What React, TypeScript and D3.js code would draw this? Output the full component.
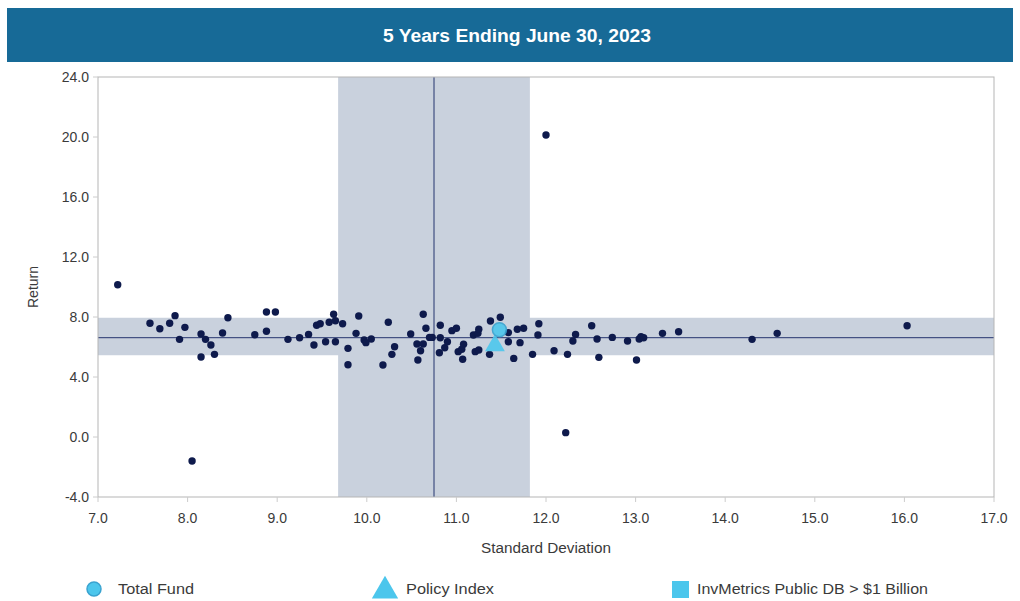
import React from "react";
import * as d3 from "d3";

const title = "5 Years Ending June 30, 2023";
const xTicks = [7, 8, 9, 10, 11, 12, 13, 14, 15, 16, 17];
const yTicks = [-4, 0, 4, 8, 12, 16, 20, 24];

// Universe peers: [standard deviation, return]
const peerSd = [
  7.22, 7.58, 7.69, 7.8, 7.86, 7.97, 7.91, 8.15, 8.2, 8.26, 8.15, 8.3, 8.39, 8.45, 8.05,
  8.75, 8.88, 8.98, 8.88, 9.12, 9.25, 9.35, 9.41, 9.44, 9.48, 9.54, 9.58, 9.63, 9.65, 9.65,
  9.73, 9.79, 9.79, 9.91, 9.88, 9.97, 9.99, 10.05, 10.18, 10.24, 10.28, 10.31, 10.49, 10.57,
  10.56, 10.6, 10.63, 10.63, 10.66, 10.7, 10.73, 10.82, 10.82, 10.81, 10.87, 10.9, 10.95, 11.0,
  11.02, 11.06, 11.07, 11.08, 11.19, 11.24, 11.25, 11.21, 11.25, 11.37, 11.38, 11.49, 11.58,
  11.58, 11.64, 11.68, 11.75, 11.71, 11.85, 11.92, 11.91, 12.0, 12.09, 12.22, 12.24, 12.3,
  12.33, 12.51, 12.57, 12.59, 12.74, 12.91, 13.01, 13.04, 13.06, 13.09, 13.3, 13.48, 14.3,
  14.58, 16.03,
];
const peerRet = [
  10.15, 7.58, 7.22, 7.58, 8.09, 7.31, 6.51, 6.87, 6.51, 6.13, 5.33, 5.51, 6.93, 7.95, -1.6,
  6.82, 8.33, 8.33, 7.05, 6.51, 6.62, 6.84, 6.13, 7.45, 7.55, 6.35, 7.65, 8.18, 7.75, 6.35,
  7.55, 5.91, 4.82, 8.07, 6.91, 6.47, 6.29, 6.53, 4.8, 7.65, 5.51, 6.02, 6.87, 5.13,
  6.2, 5.75, 6.2, 8.18, 7.25, 6.64, 6.64, 7.45, 6.62, 5.62, 5.95, 6.35, 7.09, 7.25,
  5.69, 5.85, 5.18, 6.18, 6.8, 6.91, 7.18, 5.69, 5.8, 5.51, 7.73, 7.98, 6.96,
  6.35, 5.24, 7.18, 7.25, 6.29, 5.51, 7.55, 6.8, 20.13, 5.75, 0.29, 5.51, 6.4,
  6.84, 7.42, 6.53, 5.31, 6.64, 6.4, 5.13, 6.53, 6.69, 6.62, 6.91, 7.02, 6.51,
  6.91, 7.42,
];

const totalFund = [11.48, 7.15];
const policyIndex = [11.43, 6.1];
const medianSd = 10.75;
const medianRet = 6.62;
const sdBand = [9.68, 11.82];
const retBand = [5.45, 7.95];

const legendItems = ["Total Fund", "Policy Index", "InvMetrics Public DB > $1 Billion"];

export default function App() {
  const W = 1020;
  const H = 601;
  const left = 98, right = 994, top = 77, bottom = 497;
  const x = d3.scaleLinear().domain([7, 17]).range([left, right]);
  const y = d3.scaleLinear().domain([-4, 24]).range([bottom, top]);
  const font = "'Liberation Sans', Arial, sans-serif";
  const tickColor = "#3a3a3a";
  const cyan = "#4cc6ec";
  const navy = "#0e1a4c";
  const tri = d3.symbol().type(d3.symbolTriangle).size(170)();

  return (
    <svg width={W} height={H} style={{ position: "absolute", left: 0, top: 0, background: "#fff" }}
      fontFamily={font}>
      <rect x={0} y={0} width={W} height={H} fill="#fff" />
      <rect x={7} y={8} width={1006} height={54} fill="#176a97" />
      <text x={517} y={42} textAnchor="middle" fill="#fff" fontSize={18} fontWeight="bold"
        textLength={268} lengthAdjust="spacingAndGlyphs">{title}</text>

      {/* bands */}
      <rect x={x(sdBand[0])} y={top} width={x(sdBand[1]) - x(sdBand[0])} height={bottom - top} fill="#c9d1dd" />
      <rect x={left} y={y(retBand[1])} width={right - left} height={y(retBand[0]) - y(retBand[1])} fill="#c9d1dd" />
      <line x1={x(medianSd)} x2={x(medianSd)} y1={top} y2={bottom} stroke="#25346e" strokeWidth={1} />
      <line x1={left} x2={right} y1={y(medianRet)} y2={y(medianRet)} stroke="#25346e" strokeWidth={1} />

      {/* frame */}
      <rect x={left} y={top} width={right - left} height={bottom - top} fill="none" stroke="#b5b5b5" strokeWidth={1} />

      {/* axes */}
      {yTicks.map((t) => (
        <g key={"y" + t}>
          <line x1={left - 5} x2={left} y1={y(t)} y2={y(t)} stroke="#ccc" />
          <text x={left - 9} y={y(t) + 5} textAnchor="end" fontSize={14} fill={tickColor}>{t.toFixed(1)}</text>
        </g>
      ))}
      {xTicks.map((t) => (
        <g key={"x" + t}>
          <line x1={x(t)} x2={x(t)} y1={bottom} y2={bottom + 5} stroke="#ccc" />
          <text x={x(t)} y={bottom + 26} textAnchor="middle" fontSize={14} fill={tickColor}>{t.toFixed(1)}</text>
        </g>
      ))}
      <text x={546} y={553} textAnchor="middle" fontSize={14} fill={tickColor}
        textLength={130} lengthAdjust="spacingAndGlyphs">Standard Deviation</text>
      <text transform={`translate(38,${287}) rotate(-90)`} textAnchor="middle" fontSize={14} fill={tickColor}>Return</text>

      {/* peers */}
      {peerSd.map((s, i) => (
        <circle key={i} cx={x(s)} cy={y(peerRet[i])} r={3.7} fill={navy} />
      ))}

      {/* total fund & policy */}
      <path d={tri} transform={`translate(${x(policyIndex[0])},${y(policyIndex[1])})`} fill={cyan} opacity={0.9} />
      <circle cx={x(totalFund[0])} cy={y(totalFund[1])} r={7} fill={cyan} stroke="#3aa3d0" strokeWidth={1.5} opacity={0.9} />

      {/* legend */}
      <circle cx={94} cy={589} r={7} fill={cyan} stroke="#3aa3d0" strokeWidth={1.5} />
      <text x={118} y={594} fontSize={14} fill={tickColor} textLength={76} lengthAdjust="spacingAndGlyphs">{legendItems[0]}</text>
      <path d={d3.symbol().type(d3.symbolTriangle).size(300)()} transform="translate(385,591)" fill={cyan} />
      <text x={406} y={594} fontSize={14} fill={tickColor} textLength={88} lengthAdjust="spacingAndGlyphs">{legendItems[1]}</text>
      <rect x={672} y={581} width={17} height={17} fill={cyan} />
      <text x={697} y={594} fontSize={14} fill={tickColor} textLength={231} lengthAdjust="spacingAndGlyphs">{legendItems[2]}</text>
    </svg>
  );
}
